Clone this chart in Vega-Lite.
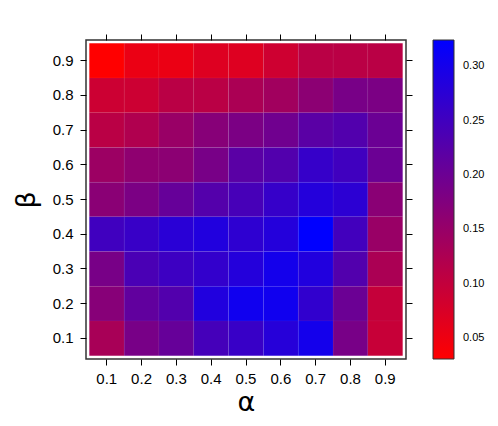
{
  "$schema": "https://vega.github.io/schema/vega-lite/v6.json",
  "width": 320,
  "height": 319,
  "autosize": {"type": "none"},
  "padding": {"left": 86, "top": 40, "right": 92, "bottom": 67},
  "background": "white",
  "config": {
    "font": "Liberation Sans",
    "view": {"stroke": "#333333", "strokeWidth": 1.5},
    "axis": {"domain": false, "grid": false, "tickColor": "#000000", "tickSize": 6, "tickWidth": 1, "labelFont": "Liberation Sans", "labelFontSize": 15, "labelColor": "#000000", "labelPadding": 6, "titleFont": "DejaVu Sans", "titleFontWeight": "normal", "titleColor": "#000000"}
  },
  "data": {"values": [
    {"alpha": 0.1, "beta": 0.9, "v": 0.031}, {"alpha": 0.2, "beta": 0.9, "v": 0.054}, {"alpha": 0.3, "beta": 0.9, "v": 0.054}, {"alpha": 0.4, "beta": 0.9, "v": 0.069}, {"alpha": 0.5, "beta": 0.9, "v": 0.069}, {"alpha": 0.6, "beta": 0.9, "v": 0.087}, {"alpha": 0.7, "beta": 0.9, "v": 0.110}, {"alpha": 0.8, "beta": 0.9, "v": 0.110}, {"alpha": 0.9, "beta": 0.9, "v": 0.110},
    {"alpha": 0.1, "beta": 0.8, "v": 0.090}, {"alpha": 0.2, "beta": 0.8, "v": 0.090}, {"alpha": 0.3, "beta": 0.8, "v": 0.110}, {"alpha": 0.4, "beta": 0.8, "v": 0.110}, {"alpha": 0.5, "beta": 0.8, "v": 0.128}, {"alpha": 0.6, "beta": 0.8, "v": 0.139}, {"alpha": 0.7, "beta": 0.8, "v": 0.163}, {"alpha": 0.8, "beta": 0.8, "v": 0.186}, {"alpha": 0.9, "beta": 0.8, "v": 0.183},
    {"alpha": 0.1, "beta": 0.7, "v": 0.110}, {"alpha": 0.2, "beta": 0.7, "v": 0.122}, {"alpha": 0.3, "beta": 0.7, "v": 0.148}, {"alpha": 0.4, "beta": 0.7, "v": 0.169}, {"alpha": 0.5, "beta": 0.7, "v": 0.183}, {"alpha": 0.6, "beta": 0.7, "v": 0.195}, {"alpha": 0.7, "beta": 0.7, "v": 0.221}, {"alpha": 0.8, "beta": 0.7, "v": 0.230}, {"alpha": 0.9, "beta": 0.7, "v": 0.201},
    {"alpha": 0.1, "beta": 0.6, "v": 0.145}, {"alpha": 0.2, "beta": 0.6, "v": 0.160}, {"alpha": 0.3, "beta": 0.6, "v": 0.163}, {"alpha": 0.4, "beta": 0.6, "v": 0.186}, {"alpha": 0.5, "beta": 0.6, "v": 0.221}, {"alpha": 0.6, "beta": 0.6, "v": 0.230}, {"alpha": 0.7, "beta": 0.6, "v": 0.262}, {"alpha": 0.8, "beta": 0.6, "v": 0.251}, {"alpha": 0.9, "beta": 0.6, "v": 0.201},
    {"alpha": 0.1, "beta": 0.5, "v": 0.166}, {"alpha": 0.2, "beta": 0.5, "v": 0.183}, {"alpha": 0.3, "beta": 0.5, "v": 0.207}, {"alpha": 0.4, "beta": 0.5, "v": 0.227}, {"alpha": 0.5, "beta": 0.5, "v": 0.242}, {"alpha": 0.6, "beta": 0.5, "v": 0.262}, {"alpha": 0.7, "beta": 0.5, "v": 0.283}, {"alpha": 0.8, "beta": 0.5, "v": 0.274}, {"alpha": 0.9, "beta": 0.5, "v": 0.166},
    {"alpha": 0.1, "beta": 0.4, "v": 0.251}, {"alpha": 0.2, "beta": 0.4, "v": 0.260}, {"alpha": 0.3, "beta": 0.4, "v": 0.277}, {"alpha": 0.4, "beta": 0.4, "v": 0.286}, {"alpha": 0.5, "beta": 0.4, "v": 0.271}, {"alpha": 0.6, "beta": 0.4, "v": 0.283}, {"alpha": 0.7, "beta": 0.4, "v": 0.324}, {"alpha": 0.8, "beta": 0.4, "v": 0.248}, {"alpha": 0.9, "beta": 0.4, "v": 0.148},
    {"alpha": 0.1, "beta": 0.3, "v": 0.186}, {"alpha": 0.2, "beta": 0.3, "v": 0.239}, {"alpha": 0.3, "beta": 0.3, "v": 0.254}, {"alpha": 0.4, "beta": 0.3, "v": 0.265}, {"alpha": 0.5, "beta": 0.3, "v": 0.283}, {"alpha": 0.6, "beta": 0.3, "v": 0.301}, {"alpha": 0.7, "beta": 0.3, "v": 0.286}, {"alpha": 0.8, "beta": 0.3, "v": 0.230}, {"alpha": 0.9, "beta": 0.3, "v": 0.128},
    {"alpha": 0.1, "beta": 0.2, "v": 0.169}, {"alpha": 0.2, "beta": 0.2, "v": 0.213}, {"alpha": 0.3, "beta": 0.2, "v": 0.230}, {"alpha": 0.4, "beta": 0.2, "v": 0.286}, {"alpha": 0.5, "beta": 0.2, "v": 0.306}, {"alpha": 0.6, "beta": 0.2, "v": 0.306}, {"alpha": 0.7, "beta": 0.2, "v": 0.268}, {"alpha": 0.8, "beta": 0.2, "v": 0.201}, {"alpha": 0.9, "beta": 0.2, "v": 0.098},
    {"alpha": 0.1, "beta": 0.1, "v": 0.131}, {"alpha": 0.2, "beta": 0.1, "v": 0.186}, {"alpha": 0.3, "beta": 0.1, "v": 0.207}, {"alpha": 0.4, "beta": 0.1, "v": 0.245}, {"alpha": 0.5, "beta": 0.1, "v": 0.260}, {"alpha": 0.6, "beta": 0.1, "v": 0.280}, {"alpha": 0.7, "beta": 0.1, "v": 0.301}, {"alpha": 0.8, "beta": 0.1, "v": 0.186}, {"alpha": 0.9, "beta": 0.1, "v": 0.095}
  ]},
  "layer": [
    {
      "mark": {"type": "rect", "stroke": "#ffffff", "strokeOpacity": 0.06, "strokeWidth": 0.6},
      "encoding": {
        "x": {"field": "alpha", "type": "ordinal", "sort": "ascending",
              "scale": {"paddingInner": 0, "paddingOuter": 0.095},
              "axis": {"orient": "bottom", "labelAngle": 0, "format": ".1f", "title": "α", "titleFontSize": 27, "titlePadding": 3, "labelPadding": 6}},
        "y": {"field": "beta", "type": "ordinal", "sort": "descending",
              "scale": {"paddingInner": 0, "paddingOuter": 0.095},
              "axis": {"orient": "left", "format": ".1f", "title": "β", "titleFontSize": 27, "titlePadding": 12, "labelPadding": 7}},
        "color": {"field": "v", "type": "quantitative",
                  "scale": {"domain": [0.031, 0.324], "range": ["#ff0000", "#0000ff"], "interpolate": "rgb"},
                  "legend": {"orient": "none", "legendX": 347, "legendY": 0, "direction": "vertical", "title": null,
                             "gradientLength": 319, "gradientThickness": 21, "gradientStrokeColor": "#333333", "gradientStrokeWidth": 1,
                             "values": [0.05, 0.10, 0.15, 0.20, 0.25, 0.30], "format": ".2f",
                             "labelFont": "Liberation Sans", "labelFontSize": 11, "labelColor": "#000000", "labelOffset": 9}}
      }
    },
    {
      "mark": {"type": "rect", "opacity": 0},
      "encoding": {
        "x": {"field": "alpha", "type": "ordinal", "sort": "ascending",
              "axis": {"orient": "top", "labels": false, "title": null}},
        "y": {"field": "beta", "type": "ordinal", "sort": "descending",
              "axis": {"orient": "right", "labels": false, "title": null}}
      }
    }
  ],
  "resolve": {"axis": {"x": "independent", "y": "independent"}}
}
